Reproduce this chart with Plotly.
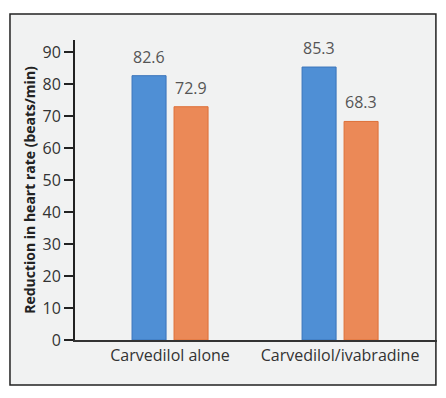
import plotly.graph_objects as go

categories = ["Carvedilol alone", "Carvedilol/ivabradine"]
series_a = [82.6, 85.3]
series_b = [72.9, 68.3]
y_ticks = [0, 10, 20, 30, 40, 50, 60, 70, 80, 90]
y_title = "Reduction in heart rate (beats/min)"

FONT = "Open Sans"
blue = "#4f8fd5"
orange = "#eb8957"

fig = go.Figure()
fig.add_trace(go.Bar(x=categories, y=series_a, marker=dict(color=blue, line=dict(color="#3a74bb", width=1)), showlegend=False))
fig.add_trace(go.Bar(x=categories, y=series_b, marker=dict(color=orange, line=dict(color="#de7038", width=1)), showlegend=False))

for vals, xs in ((series_a, -21), (series_b, 21)):
    for c, v in zip(categories, vals):
        fig.add_annotation(x=c, y=v, text=f"{v:.1f}", showarrow=False, xshift=xs, yshift=19,
                           font=dict(family=FONT, size=16, color="#555555"))

# outer frame
fig.add_shape(type="rect", xref="paper", yref="paper", x0=-0.1796, x1=0.997, y0=-0.15, y1=1.0867,
              fillcolor="#f1f2f2", line=dict(color="#222222", width=1.5), layer="below")

fig.update_layout(
    width=446, height=398,
    margin=dict(l=75, r=9, t=40, b=58),
    paper_bgcolor="white", plot_bgcolor="rgba(0,0,0,0)",
    barmode="group", bargap=0.506, bargroupgap=0.19,
    font=dict(family=FONT, color="#333333"),
    xaxis=dict(type="category", range=[-0.559, 1.57], showline=True, linecolor="#333333", linewidth=2,
               ticks="", tickfont=dict(size=16, color="#333333"), showgrid=False, zeroline=False,
               automargin=False),
    yaxis=dict(range=[0, 93.75], tickvals=y_ticks, showline=True, linecolor="#222222", linewidth=2,
               ticks="outside", ticklen=9, tickwidth=2, tickcolor="#222222", showgrid=False, zeroline=False,
               tickfont=dict(size=16, color="#333333"), automargin=False,
               title=dict(text=y_title, font=dict(size=14, color="#222222", family=FONT, weight="bold"), standoff=4)),
)

fig.write_html("out.html", config={"displayModeBar": False},
               post_script="document.body.style.margin='0';")
